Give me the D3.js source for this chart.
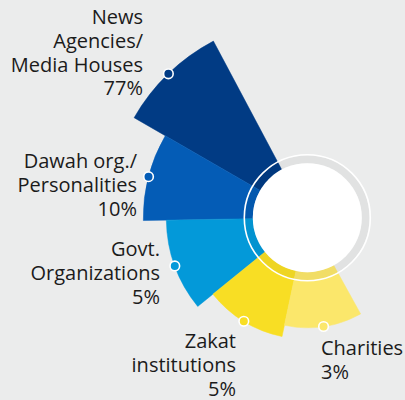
<!DOCTYPE html>
<html>
<head>
<meta charset="utf-8">
<script src="https://cdn.jsdelivr.net/npm/d3@7"></script>
<style>
  html, body { margin: 0; padding: 0; background: #ebecec; }
  svg { display: block; }
  text { font-family: "Open Sans", Lato, sans-serif; fill: #1b1b1b; }
</style>
</head>
<body>
<svg id="chart" width="405" height="400"></svg>
<script>
// ---- data ----
const categories = ["News Agencies/ Media Houses", "Dawah org./ Personalities", "Govt. Organizations", "Zakat institutions", "Charities"];
const labelLines = [["News", "Agencies/", "Media Houses"], ["Dawah org./", "Personalities"], ["Govt.", "Organizations"], ["Zakat", "institutions"], ["Charities"]];
const values = [77, 10, 5, 5, 3];
const valueLabels = ["77%", "10%", "5%", "5%", "3%"];

// ---- layout ----
const W = 405, H = 400;
const cx = 307.3, cy = 217.7;
const deg = Math.PI / 180;
const colors = ["#013b84", "#045cb6", "#0399d9", "#f8de24", "#fbe76b"];
const colorScale = d3.scaleOrdinal().domain(categories).range(colors);
// decorative radius by rank (not proportional in the original)
const radiusScale = d3.scaleOrdinal().domain(categories).range([200, 164, 141, 121.5, 110]);
// angular boundaries (degrees, clockwise from 12 o'clock)
const edges = [-28, -60, -91, -129, -168, -209];
const angleScale = d3.scaleOrdinal().domain(categories).range(categories.map((c, i) => [edges[i + 1] * deg, edges[i] * deg]));
const innerR = 54.5;

const svg = d3.select("#chart");
svg.append("rect").attr("width", W).attr("height", H).attr("fill", "#ebecec");
const g = svg.append("g").attr("transform", `translate(${cx},${cy})`);

const data = categories.map((c, i) => ({ cat: c, value: values[i], lines: labelLines[i], vlabel: valueLabels[i], i }));

const arc = d3.arc()
  .innerRadius(innerR)
  .outerRadius(d => radiusScale(d.cat))
  .startAngle(d => angleScale(d.cat)[0])
  .endAngle(d => angleScale(d.cat)[1]);

g.selectAll("path.slice").data(data).join("path")
  .attr("class", "slice")
  .attr("d", arc)
  .attr("fill", d => colorScale(d.cat))
  .attr("stroke", d => colorScale(d.cat))
  .attr("stroke-width", 0.5);

// ring overlay
g.append("path")
  .attr("d", d3.arc().innerRadius(innerR).outerRadius(62.5).startAngle(0).endAngle(2 * Math.PI)())
  .attr("fill", "rgba(0,0,0,0.04)");
g.append("circle").attr("r", 63).attr("fill", "none").attr("stroke", "#ffffff").attr("stroke-width", 1.6);
g.append("circle").attr("r", innerR).attr("fill", "#ffffff");

// dots at mid-angle of outer arc
function dotPos(d) {
  const a = (angleScale(d.cat)[0] + angleScale(d.cat)[1]) / 2;
  const r = radiusScale(d.cat);
  return [Math.sin(a) * r, -Math.cos(a) * r];
}
g.selectAll("circle.dot").data(data).join("circle")
  .attr("class", "dot")
  .attr("cx", d => dotPos(d)[0])
  .attr("cy", d => dotPos(d)[1])
  .attr("r", 4.8)
  .attr("fill", d => colorScale(d.cat))
  .attr("stroke", "#ffffff")
  .attr("stroke-width", 1.6);

// labels (absolute layout)
const labelLayout = [
  { x: 143, y: 24, anchor: "end" },
  { x: 137, y: 168, anchor: "end" },
  { x: 160, y: 256, anchor: "end" },
  { x: 236, y: 348, anchor: "end" },
  { x: 321, y: 355, anchor: "start" }
];
const lineH = 23.8;
const labels = svg.selectAll("text.lbl").data(data).join("text")
  .attr("class", "lbl")
  .attr("text-anchor", d => labelLayout[d.i].anchor)
  .attr("font-size", 20)
  .attr("x", d => labelLayout[d.i].x)
  .attr("y", d => labelLayout[d.i].y);
labels.each(function(d) {
  const t = d3.select(this);
  const lines = d.lines.concat([d.vlabel]);
  lines.forEach((ln, k) => {
    t.append("tspan")
      .attr("x", labelLayout[d.i].x)
      .attr("dy", k === 0 ? 0 : lineH)
      .text(ln);
  });
});
</script>
</body>
</html>
